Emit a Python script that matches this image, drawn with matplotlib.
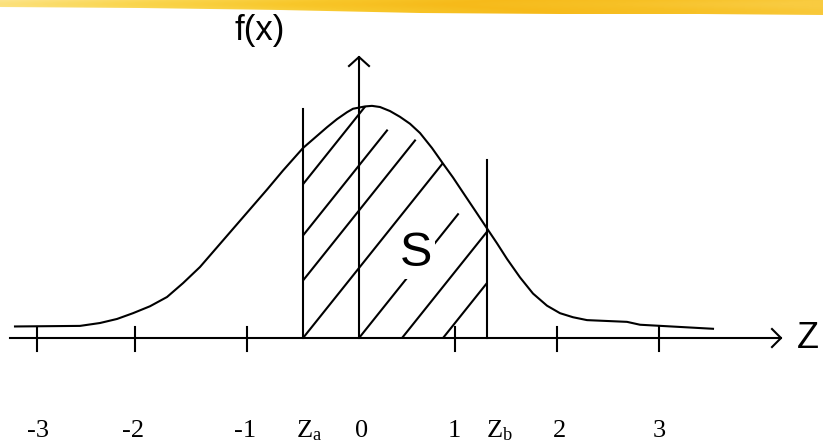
import numpy as np
import matplotlib
matplotlib.use("Agg")
import matplotlib.pyplot as plt
from matplotlib.patches import Polygon
from matplotlib.colors import LinearSegmentedColormap

plt.rcParams['mathtext.fontset'] = 'custom'
plt.rcParams['mathtext.rm'] = 'Liberation Serif'
plt.rcParams['mathtext.it'] = 'Liberation Serif'

# кривая плотности (z, f)
curve_z = [-3.44, -2.79, -2.59, -2.42, -2.26, -2.09, -1.92, -1.76, -1.59, -1.42,
           -1.26, -1.09, -0.92, -0.76, -0.56, -0.44, -0.32, -0.22, -0.12, -0.06,
           0.00, 0.06, 0.13, 0.21, 0.31, 0.41, 0.51, 0.61, 0.73, 0.84,
           0.94, 1.04, 1.16, 1.26, 1.38, 1.48, 1.61, 1.74, 1.88, 2.01,
           2.14, 2.28, 2.68, 2.81, 3.54]
curve_f = [0.020, 0.021, 0.026, 0.033, 0.043, 0.055, 0.071, 0.095, 0.123, 0.157,
           0.189, 0.223, 0.257, 0.290, 0.329, 0.347, 0.365, 0.379, 0.391, 0.397,
           0.399, 0.401, 0.402, 0.400, 0.393, 0.383, 0.371, 0.355, 0.329, 0.302,
           0.278, 0.252, 0.221, 0.195, 0.164, 0.137, 0.105, 0.077, 0.056, 0.043,
           0.036, 0.031, 0.028, 0.023, 0.016]

# границы интервала
z_a = -0.56
z_b = 1.28
z_a_top = 0.397
z_b_top = 0.308

# засечки на оси
tick_z = [-3.22, -2.24, -1.12, 0.96, 1.98, 3.00]

# подписи снизу
label_text = ['-3', '-2', '-1', r'Z$_{\mathrm{a}}$', '0', '1', r'Z$_{\mathrm{b}}$', '2', '3']
label_z = [-3.21, -2.26, -1.14, -0.50, 0.025, 0.955, 1.40, 2.01, 3.005]

# штриховка: начало на оси z и где линия обрывается (None - до кривой)
hatch_z0 = [-1.79, -1.38, -1.02, -0.56, 0.0, 0.43, 0.84]
hatch_end = [None, 0.28, 0.56, None, 0.99, None, None]

W, H = 823, 447
fig = plt.figure(figsize=(W / 100, H / 100), dpi=100)

# жёлтая полоса сверху
bg = fig.add_axes([0, 0, 1, 1])
bg.set_xlim(0, W)
bg.set_ylim(H, 0)
bg.axis('off')
cmap = LinearSegmentedColormap.from_list(
    'band', ['#FCE48A', '#FAD650', '#F8C72A', '#F6BA1A', '#F7C126', '#F9CB40'])
grad = np.tile(np.linspace(0, 1, 400), (30, 1))
grad = grad + 0.05 * np.sin(np.linspace(0, 12, 30))[:, None]
band_x = [0, 140, 280, 420, 560, 700, 823, 823, 0]
band_y = [7, 8, 10, 13, 14, 14, 15, 0, 0]
band = Polygon(np.column_stack([band_x, band_y]), closed=True,
               facecolor='none', edgecolor='none')
bg.add_patch(band)
im = bg.imshow(grad, cmap=cmap, extent=(0, W, 30, 0), aspect='auto',
               vmin=0, vmax=1)
im.set_clip_path(band)

ax = fig.add_axes([0, 0, 1, 1])
ax.patch.set_alpha(0)
ax.set_xlim(-3.59, 4.64)
ax.set_ylim(-0.1887, 0.5853)
ax.axis('off')

lw = 1.5
k = 'black'

# кривая
ax.plot(curve_z, curve_f, color=k, lw=lw, solid_joinstyle='round')

# ось Z со стрелкой
ax.plot([-3.49, 4.22], [0, 0], color=k, lw=lw)
ax.plot([4.13, 4.22, 4.13], [0.0156, 0, -0.0156], color=k, lw=lw)

# вертикальная ось f(x)
ax.plot([0, 0], [0, 0.4866], color=k, lw=lw)
ax.plot([-0.10, 0, 0.10], [0.4710, 0.4866, 0.4710], color=k, lw=lw)

# засечки
for t in tick_z:
    ax.plot([t, t], [0.019, -0.0225], color=k, lw=lw)

# Za, Zb
ax.plot([z_a, z_a], [0, z_a_top], color=k, lw=lw)
ax.plot([z_b, z_b], [0, z_b_top], color=k, lw=lw)

# область S для обрезки штриховки
cz = np.array(curve_z)
cf = np.array(curve_f)
inside = (cz > z_a) & (cz < z_b)
poly_z = np.concatenate([[z_a, z_a], cz[inside], [z_b, z_b]])
poly_f = np.concatenate([[0, np.interp(z_a, cz, cf)], cf[inside],
                         [np.interp(z_b, cz, cf), 0]])
region = Polygon(np.column_stack([poly_z, poly_f]), closed=True,
                 facecolor='none', edgecolor='none')
ax.add_patch(region)

slope = 0.2165
for z0, z1 in zip(hatch_z0, hatch_end):
    if z1 is None:
        z1 = z0 + 0.6 / slope
    ln, = ax.plot([z0, z1], [0, (z1 - z0) * slope], color=k, lw=lw)
    ln.set_clip_path(region)

ax.text(0.57, 0.147, 'S', family='Liberation Sans', fontsize=35,
        ha='center', va='center', zorder=5,
        bbox=dict(facecolor='white', edgecolor='none', pad=2))

ax.text(4.49, 0, 'Z', family='Liberation Sans', fontsize=26,
        ha='center', va='center')
ax.text(-0.99, 0.533, 'f(x)', family='Liberation Sans', fontsize=25,
        ha='center', va='center')

for txt, z in zip(label_text, label_z):
    ax.text(z, -0.1714, txt, family='Liberation Serif', fontsize=19,
            ha='center', va='baseline')

fig.savefig('out.png', dpi=100)
